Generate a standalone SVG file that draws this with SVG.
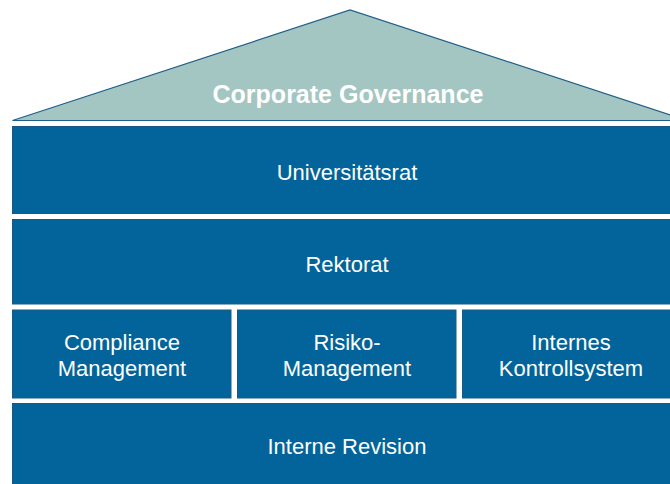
<svg xmlns="http://www.w3.org/2000/svg" width="670" height="484" viewBox="0 0 670 484">
<style>
.box{fill:#02649A;stroke:#1A5A82;stroke-width:1}
.roof{fill:#A3C6C2;stroke:#1F5E8A;stroke-width:1.2}
.t{fill:#ffffff;font-family:"Liberation Sans",Arial,sans-serif;font-size:22px;text-anchor:middle}
.tb{fill:#ffffff;font-family:"Liberation Sans",Arial,sans-serif;font-size:25px;font-weight:bold;text-anchor:middle}
</style>
<rect width="670" height="484" fill="#ffffff"/>
<g id="corporate-governance">
<polygon class="roof" points="12.5,120.5 350,10 687.5,120.5"/>
<text class="tb" x="348" y="103">Corporate Governance</text>
</g>
<g id="universitaetsrat">
<rect class="box" x="12.5" y="126.5" width="670" height="87"/>
<text class="t" x="347" y="180">Universitätsrat</text>
</g>
<g id="rektorat">
<rect class="box" x="12.5" y="219.5" width="670" height="84.5"/>
<text class="t" x="347" y="272">Rektorat</text>
</g>
<g id="compliance-management">
<rect class="box" x="12.5" y="310" width="218.5" height="88"/>
<text class="t" x="122" y="350">Compliance</text>
<text class="t" x="122" y="376">Management</text>
</g>
<g id="risiko-management">
<rect class="box" x="237.5" y="310" width="218.5" height="88"/>
<text class="t" x="347" y="350">Risiko-</text>
<text class="t" x="347" y="376">Management</text>
</g>
<g id="internes-kontrollsystem">
<rect class="box" x="462.5" y="310" width="220" height="88"/>
<text class="t" x="571" y="350">Internes</text>
<text class="t" x="571" y="376">Kontrollsystem</text>
</g>
<g id="interne-revision">
<rect class="box" x="12.5" y="403.5" width="670" height="90"/>
<text class="t" x="347" y="454">Interne Revision</text>
</g>
<g id="connectors"></g>
</svg>
